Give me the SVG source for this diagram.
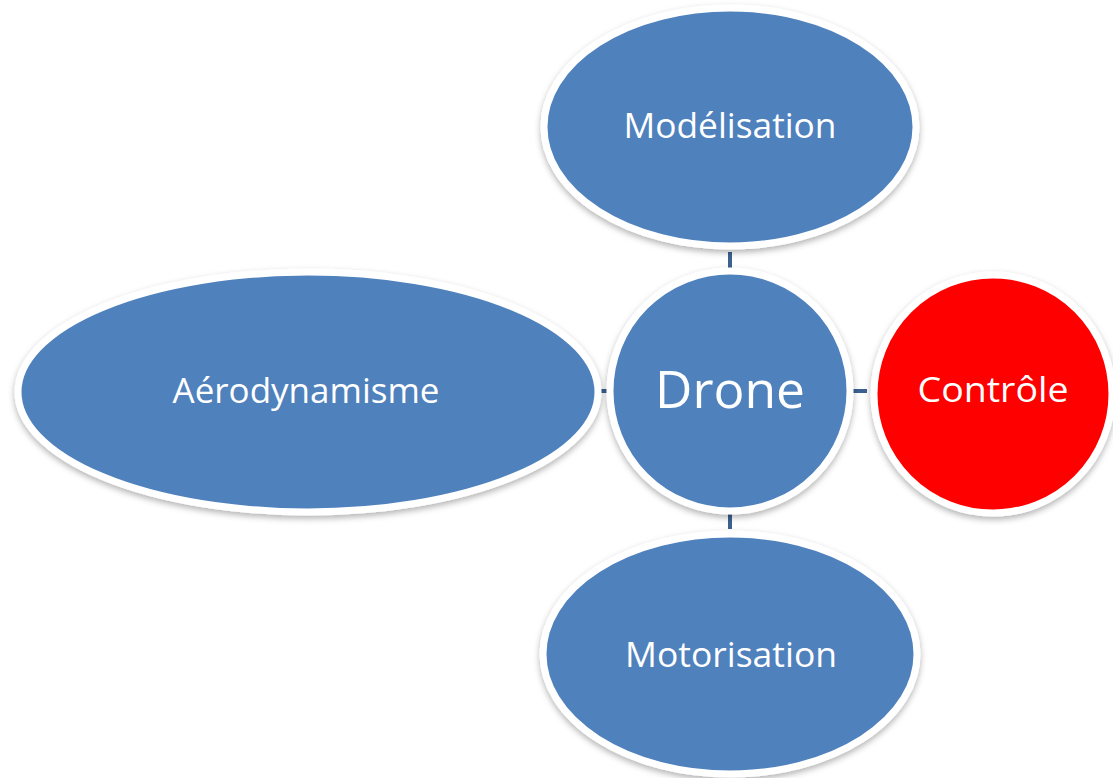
<svg xmlns="http://www.w3.org/2000/svg" width="1113" height="778" viewBox="0 0 1113 778">
<defs>
<filter id="sh" x="-10%" y="-10%" width="120%" height="125%">
<feDropShadow dx="0" dy="3" stdDeviation="3" flood-color="#000" flood-opacity="0.3"/>
</filter>
</defs>
<style>
.n{fill:#4F81BD;stroke:#fff;stroke-width:7;filter:url(#sh)}
.r{fill:#FF0000}
.t{fill:#fff;font-family:"Open Sans","Noto Sans",sans-serif;font-size:34px;text-anchor:middle}
.c{stroke:#3A6190;stroke-width:4;fill:none}
</style>
<rect width="1113" height="778" fill="#fff"/>
<g id="connectors">
<line class="c" x1="730" y1="252" x2="730" y2="268"/>
<line class="c" x1="598" y1="391" x2="610" y2="391"/>
<line class="c" x1="850" y1="391" x2="867" y2="391"/>
<line class="c" x1="730" y1="514" x2="730" y2="529"/>
</g>
<g id="modelisation">
<ellipse class="n" cx="730" cy="127" rx="186" ry="119"/>
<text class="t" x="730" y="138" textLength="213" lengthAdjust="spacingAndGlyphs">Modélisation</text>
</g>
<g id="aerodynamisme">
<ellipse class="n" cx="308" cy="392" rx="290" ry="120"/>
<text class="t" x="306" y="403" textLength="267" lengthAdjust="spacingAndGlyphs">Aérodynamisme</text>
</g>
<g id="drone">
<circle class="n" cx="730" cy="391" r="120"/>
<text class="t" x="730" y="408" font-size="52" style="font-size:52px" textLength="150" lengthAdjust="spacingAndGlyphs">Drone</text>
</g>
<g id="controle">
<circle class="n r" cx="993" cy="394" r="119"/>
<text class="t" x="993" y="402" textLength="151" lengthAdjust="spacingAndGlyphs">Contrôle</text>
</g>
<g id="motorisation">
<ellipse class="n" cx="730" cy="654" rx="187" ry="120"/>
<text class="t" x="731" y="667" textLength="212" lengthAdjust="spacingAndGlyphs">Motorisation</text>
</g>
</svg>
